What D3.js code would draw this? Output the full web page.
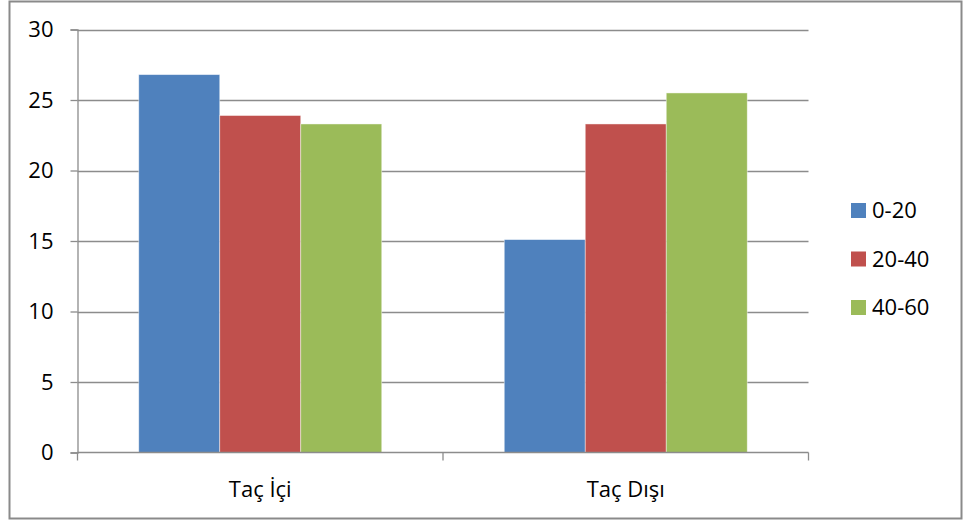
<!DOCTYPE html>
<html>
<head>
<meta charset="utf-8">
<script src="https://cdn.jsdelivr.net/npm/d3@7"></script>
<style>
  html, body { margin: 0; padding: 0; background: #fff; }
  svg { display: block; }
  text { font-family: "Open Sans", "Noto Sans", sans-serif; fill: #000; }
</style>
</head>
<body>
<svg id="chart" width="963" height="523"></svg>
<script>
// Data
const categories = ["Taç İçi", "Taç Dışı"];
const seriesNames = ["0-20", "20-40", "40-60"];
const values0to20 = [26.8, 15.1];
const values20to40 = [23.9, 23.3];
const values40to60 = [23.3, 25.5];
const yTicks = [0, 5, 10, 15, 20, 25, 30];

const seriesValues = [values0to20, values20to40, values40to60];
const colors = ["#4F81BD", "#C0504D", "#9BBB59"];
const fontSize = "22px";

const svg = d3.select("#chart");

// Outer chart frame
svg.append("rect")
  .attr("x", 9.5).attr("y", 1.5)
  .attr("width", 952).attr("height", 517)
  .attr("fill", "#fff")
  .attr("stroke", "#8a8a8a")
  .attr("stroke-width", 2);

const plot = { left: 77.5, right: 808.5, top: 29.5, bottom: 452.5 };

const x0 = d3.scaleBand()
  .domain(categories)
  .range([plot.left, plot.right])
  .paddingInner(0)
  .paddingOuter(0);

const barWidth = 81;
const groupWidth = barWidth * seriesNames.length;

const y = d3.scaleLinear()
  .domain([0, 30])
  .range([plot.bottom, plot.top]);

// Horizontal gridlines
svg.append("g")
  .selectAll("line")
  .data(yTicks.filter(t => t > 0))
  .join("line")
  .attr("x1", plot.left).attr("x2", plot.right)
  .attr("y1", d => Math.round(y(d)) + 0.5)
  .attr("y2", d => Math.round(y(d)) + 0.5)
  .attr("stroke", "#8c8c8c")
  .attr("stroke-width", 1.3);

// Bars
const groups = svg.append("g")
  .selectAll("g")
  .data(categories)
  .join("g")
  .attr("transform", d => `translate(${x0(d) + (x0.bandwidth() - groupWidth) / 2},0)`);

groups.selectAll("rect")
  .data((d, i) => seriesValues.map((vals, s) => ({ s, v: vals[i] })))
  .join("rect")
  .attr("x", d => d.s * barWidth)
  .attr("y", d => y(d.v))
  .attr("width", barWidth)
  .attr("height", d => y(0) - y(d.v))
  .attr("fill", d => colors[d.s])
  .attr("stroke", "rgba(255,255,255,0.55)")
  .attr("stroke-width", 0.8);

// Y axis
const yAxis = d3.axisLeft(y)
  .tickValues(yTicks)
  .tickSize(7)
  .tickPadding(17)
  .tickFormat(d3.format("d"));

const yg = svg.append("g")
  .attr("transform", `translate(${plot.left},0)`)
  .call(yAxis);
yg.select(".domain").attr("stroke", "#8c8c8c").attr("stroke-width", 1.3);
yg.selectAll(".tick line").attr("stroke", "#8c8c8c").attr("stroke-width", 1.3);
yg.selectAll(".tick text")
  .style("font-family", "'Open Sans', 'Noto Sans', sans-serif")
  .style("font-size", fontSize)
  .attr("fill", "#000");

// X axis baseline with category boundary ticks
const xg = svg.append("g");
xg.append("line")
  .attr("x1", plot.left).attr("x2", plot.right)
  .attr("y1", y(0)).attr("y2", y(0))
  .attr("stroke", "#8c8c8c").attr("stroke-width", 1.3);
const boundaries = categories.map(c => x0(c)).concat([x0(categories[categories.length - 1]) + x0.bandwidth()]);
xg.selectAll("line.b")
  .data(boundaries)
  .join("line")
  .attr("class", "b")
  .attr("x1", d => d).attr("x2", d => d)
  .attr("y1", y(0)).attr("y2", y(0) + 8)
  .attr("stroke", "#8c8c8c").attr("stroke-width", 1.3);

xg.selectAll("text")
  .data(categories)
  .join("text")
  .attr("x", d => x0(d) + x0.bandwidth() / 2)
  .attr("y", 497)
  .attr("text-anchor", "middle")
  .style("font-size", fontSize)
  .text(d => d);

// Legend
const legend = svg.append("g").attr("transform", "translate(851,203)");
const items = legend.selectAll("g")
  .data(seriesNames)
  .join("g")
  .attr("transform", (d, i) => `translate(0,${i * 48.5})`);
items.append("rect")
  .attr("width", 15).attr("height", 15)
  .attr("fill", (d, i) => colors[i]);
items.append("text")
  .attr("x", 21)
  .attr("y", 7.5)
  .attr("dy", "0.35em")
  .style("font-size", fontSize)
  .text(d => d);
</script>
</body>
</html>
